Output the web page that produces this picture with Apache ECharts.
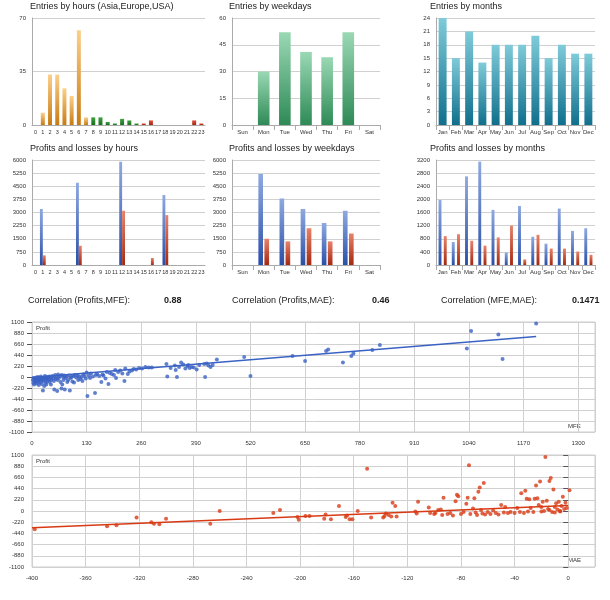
<!DOCTYPE html>
<html><head><meta charset="utf-8">
<script src="https://cdn.jsdelivr.net/npm/echarts@6/dist/echarts.min.js"></script>
<style>html,body{margin:0;background:#fff}#c{width:610px;height:600px}</style>
</head><body><div id="c"></div>
<script>
var hours = [];
for (var i = 0; i < 24; i++) hours.push(String(i));
var weekdays = ['Sun','Mon','Tue','Wed','Thu','Fri','Sat'];
var months = ['Jan','Feb','Mar','Apr','May','Jun','Jul','Aug','Sep','Oct','Nov','Dec'];

var entriesHours = [0,8,33,33,24,19,62,5,5,5,2,1,4,3,1,1,3,0,0,0,0,0,3,1];
var entriesWeekdays = [0,30,52,41,38,52,0];
var entriesMonths = [24,15,21,14,18,18,18,20,15,18,16,16];

var profitHours = [0,3200,0,0,0,0,4700,0,0,0,0,0,5900,0,0,0,0,0,4000,0,0,0,0,0];
var lossHours   = [0,550,0,0,0,0,1100,0,0,0,0,0,3100,0,0,0,400,0,2850,0,0,0,0,0];
var profitWeekdays = [0,5200,3800,3200,2400,3100,0];
var lossWeekdays   = [0,1500,1350,2100,1350,1800,0];
var profitMonths = [1980,700,2700,3150,1680,380,1800,860,650,1720,1040,1120];
var lossMonths   = [880,940,740,590,840,1200,170,920,500,500,410,310];

var mfePoints = [
[2,-60],[3,-120],[4,-20],[5,-150],[6,-80],[7,-30],[8,-100],[9,-50],[10,-10],[11,-130],[12,-70],[13,-40],[14,0],
[15,-90],[16,-160],[17,-20],[18,-60],[19,-110],[20,-30],[21,10],[22,-70],[23,-140],[24,-20],[25,-50],[26,-270],
[27,-90],[28,-10],[29,-180],[30,-40],[31,20],[32,-60],[33,-110],[34,-150],[35,-30],[36,0],[37,-80],[38,-20],
[40,-50],[41,10],[42,-100],[44,-30],[45,-150],[46,-60],[48,20],[50,-20],[52,-80],[53,-250],[55,40],[56,-40],
[58,-10],[60,-280],[61,-60],[62,50],[64,-20],[66,20],[68,-100],[70,-230],[71,40],[72,-150],[74,0],[75,-60],
[77,30],[78,-250],[80,-20],[82,10],[84,-100],[86,-60],[88,30],[90,-270],[92,-20],[94,0],[96,-90],[98,20],
[100,-110],[102,40],[105,-10],[108,30],[110,-60],[112,10],[115,-40],[118,0],[120,-80],[122,50],[125,20],
[128,-30],[130,90],[132,-380],[135,30],[138,-20],[140,70],[145,10],[150,-320],[152,40],[155,60],[160,20],
[165,-100],[168,50],[170,30],[175,-30],[178,100],[182,-140],[185,80],[190,60],[195,40],[198,140],[200,-20],
[205,100],[210,130],[215,70],[220,-80],[222,170],[228,60],[232,110],[238,130],[242,160],[248,150],[255,180],
[262,170],[270,200],[278,190],[285,190],[320,260],[322,10],[330,180],[340,230],[342,140],[345,0],[350,200],
[355,290],[360,250],[365,170],[370,220],[372,240],[375,180],[380,200],[385,190],[392,150],[398,240],[410,260],
[412,0],[416,270],[420,230],[425,200],[430,240],[440,350],[505,400],[520,20],[620,420],[650,320],[700,520],
[705,550],[740,290],[760,420],[765,470],[810,540],[828,640],[1035,570],[1045,920],[1110,850],[1120,360],[1200,1070]
];
var maePoints = [
[-398,-360],[-344,-300],[-337,-280],[-322,-130],[-311,-220],[-309,-250],[-305,-260],[-300,-150],[-267,-250],
[-260,0],[-220,-40],[-215,20],[-202,-120],[-201,-170],[-196,-100],[-193,-100],[-182,-150],[-181,-70],[-177,-160],
[-171,100],[-166,-120],[-165,-90],[-163,-160],[-161,-160],[-157,0],[-150,830],[-147,-130],[-138,-130],
[-137,-100],[-136,-50],[-134,-80],[-132,-110],[-131,160],[-129,100],[-128,-110],[-114,-10],[-113,-50],
[-112,180],[-104,70],[-103,-40],[-100,-60],[-99,-40],[-97,20],[-95,30],[-94,-80],[-93,260],[-90,-60],
[-88,-40],[-86,-90],[-84,190],[-83,320],[-82,290],[-80,-60],[-78,-20],[-76,140],[-75,260],[-74,900],
[-73,-60],[-71,50],[-70,250],[-69,-30],[-68,-80],[-67,380],[-66,460],[-65,20],[-64,-50],[-63,550],
[-62,-70],[-60,-20],[-58,-60],[-56,10],[-54,-40],[-52,-70],[-50,120],[-48,-30],[-47,80],[-45,-40],
[-43,-20],[-40,-40],[-38,60],[-36,-20],[-35,350],[-33,-40],[-32,400],[-31,240],[-30,-10],[-29,230],
[-28,60],[-26,-20],[-25,240],[-24,500],[-23,250],[-22,120],[-21,580],[-20,-10],[-19,180],[-18,0],
[-17,1060],[-16,200],[-15,40],[-14,590],[-13,650],[-12,-20],[-11,420],[-10,80],[-9,150],[-8,30],
[-7,180],[-6,0],[-5,100],[-4,280],[-3,40],[-2,160],[-1,60],[-6,-10],[-10,-30],[-14,20],[-20,80],[1,410]
];
var mfeTrend = [[0,-10],[1200,810]];
var maeTrend = [[-400,-330],[0,110]];

var chart = echarts.init(document.getElementById('c'));
var lbl = {fontSize:6, color:'#333', fontFamily:'Liberation Sans', formatter:function(v){return String(v);}};
var split = {lineStyle:{color:'#d0d0d0'}};
function grad(top, bottom) {
  return new echarts.graphic.LinearGradient(0,0,0,1,[{offset:0,color:top},{offset:1,color:bottom}]);
}
function hourColor(i) {
  if (i <= 7) return grad('#fbd08a','#c87a12');
  if (i <= 14) return grad('#3fa23f','#1c6d1c');
  return grad('#e0503a','#a42410');
}
var boxes = [
  {l:32,w:173,t:18,h:107},{l:232,w:148,t:18,h:107},{l:436,w:159,t:18,h:107},
  {l:32,w:173,t:160,h:105},{l:232,w:148,t:160,h:105},{l:436,w:159,t:160,h:105},
  {l:32,w:563,t:322,h:110},{l:32,w:563,t:455,h:112}
];
var grids = boxes.map(function(b,i){return {left:b.l,top:b.t,width:b.w,height:b.h,
  show:i>5,borderColor:'#ccc'};});
var cats = [hours,weekdays,months,hours,weekdays,months];
var yMax = [70,60,24,6000,6000,3200], yInt = [35,15,3,750,750,400];
var xAxis = [], yAxis = [];
for (var k = 0; k < 6; k++) {
  xAxis.push({type:'category',gridIndex:k,data:cats[k],
    axisLabel:{interval:0,margin:4,fontSize:(k%3===0?5.5:6),color:'#333',fontFamily:'Liberation Sans'},
    axisTick:{show:k!==0&&k!==3,lineStyle:{color:'#aaa'}},axisLine:{lineStyle:{color:'#aaa'}}});
  yAxis.push({type:'value',gridIndex:k,min:0,max:yMax[k],interval:yInt[k],axisLabel:Object.assign({margin:6},lbl),
    splitLine:split,axisLine:{show:true,lineStyle:{color:'#aaa'}}});
}
function hideOver(max){return function(v){return v>max?'':String(v);};}
xAxis.push({type:'value',gridIndex:6,min:0,max:1340,interval:130,
  axisLabel:Object.assign({margin:8},lbl,{formatter:hideOver(1300)}),splitLine:split,axisLine:{show:false},axisTick:{show:false}});
yAxis.push({type:'value',gridIndex:6,min:-1100,max:1100,interval:220,axisLabel:lbl,splitLine:split,axisLine:{show:false}});
xAxis.push({type:'value',gridIndex:7,min:-400,max:20,interval:40,
  axisLabel:Object.assign({margin:8},lbl,{formatter:hideOver(0)}),splitLine:split,axisLine:{show:false},axisTick:{show:false}});
yAxis.push({type:'value',gridIndex:7,min:-1100,max:1100,interval:220,axisLabel:lbl,splitLine:split,axisLine:{show:false}});

var blue = grad('#8fa9e0','#2a4fa8'), red = grad('#e8826a','#a62810');
var series = [
  {type:'bar',xAxisIndex:0,yAxisIndex:0,barWidth:'55%',data:entriesHours.map(function(v,i){return {value:v,itemStyle:{color:hourColor(i)}};})},
  {type:'bar',xAxisIndex:1,yAxisIndex:1,barWidth:'55%',itemStyle:{color:grad('#9ad8b4','#2e8a56')},data:entriesWeekdays},
  {type:'bar',xAxisIndex:2,yAxisIndex:2,barWidth:'60%',itemStyle:{color:grad('#7fcbd9','#106f8c')},data:entriesMonths},
  {type:'bar',xAxisIndex:3,yAxisIndex:3,barWidth:'40%',barGap:'0%',itemStyle:{color:blue},data:profitHours},
  {type:'bar',xAxisIndex:3,yAxisIndex:3,barWidth:'40%',itemStyle:{color:red},data:lossHours},
  {type:'bar',xAxisIndex:4,yAxisIndex:4,barWidth:'22%',barGap:'30%',itemStyle:{color:blue},data:profitWeekdays},
  {type:'bar',xAxisIndex:4,yAxisIndex:4,barWidth:'22%',itemStyle:{color:red},data:lossWeekdays},
  {type:'bar',xAxisIndex:5,yAxisIndex:5,barWidth:'22%',barGap:'80%',itemStyle:{color:blue},data:profitMonths},
  {type:'bar',xAxisIndex:5,yAxisIndex:5,barWidth:'22%',itemStyle:{color:red},data:lossMonths},
  {type:'scatter',xAxisIndex:6,yAxisIndex:6,symbolSize:4,itemStyle:{color:'#3a62c4'},data:mfePoints},
  {type:'line',xAxisIndex:6,yAxisIndex:6,symbol:'none',lineStyle:{color:'#3a62c4',width:1.5},data:mfeTrend},
  {type:'scatter',xAxisIndex:7,yAxisIndex:7,symbolSize:4,itemStyle:{color:'#d83a14'},data:maePoints},
  {type:'line',xAxisIndex:7,yAxisIndex:7,symbol:'none',lineStyle:{color:'#d83a14',width:1.5},data:maeTrend}
];
var tstyle = {fontSize:9, fill:'#222', fontFamily:'Liberation Sans'};
function txt(x,y,s,extra){return {type:'text',left:x,top:y,style:Object.assign({text:s},tstyle,extra||{})};}
var small = {fontSize:6,fill:'#333'};
chart.setOption({
  animation:false,
  grid:grids, xAxis:xAxis, yAxis:yAxis, series:series,
  graphic:[
    txt(30,2,'Entries by hours (Asia,Europe,USA)'),txt(229,2,'Entries by weekdays'),txt(430,2,'Entries by months'),
    txt(30,144,'Profits and losses by hours'),txt(229,144,'Profits and losses by weekdays'),txt(430,144,'Profits and losses by months'),
    txt(28,296,'Correlation (Profits,MFE):'),txt(164,296,'0.88',{fontWeight:'bold'}),
    txt(232,296,'Correlation (Profits,MAE):'),txt(372,296,'0.46',{fontWeight:'bold'}),
    txt(441,296,'Correlation (MFE,MAE):'),txt(572,296,'0.1471',{fontWeight:'bold'}),
    txt(36,325,'Profit',small),txt(568,423,'MFE',small),
    txt(36,458,'Profit',small),txt(568,557,'MAE',small)
  ]
});
</script></body></html>
